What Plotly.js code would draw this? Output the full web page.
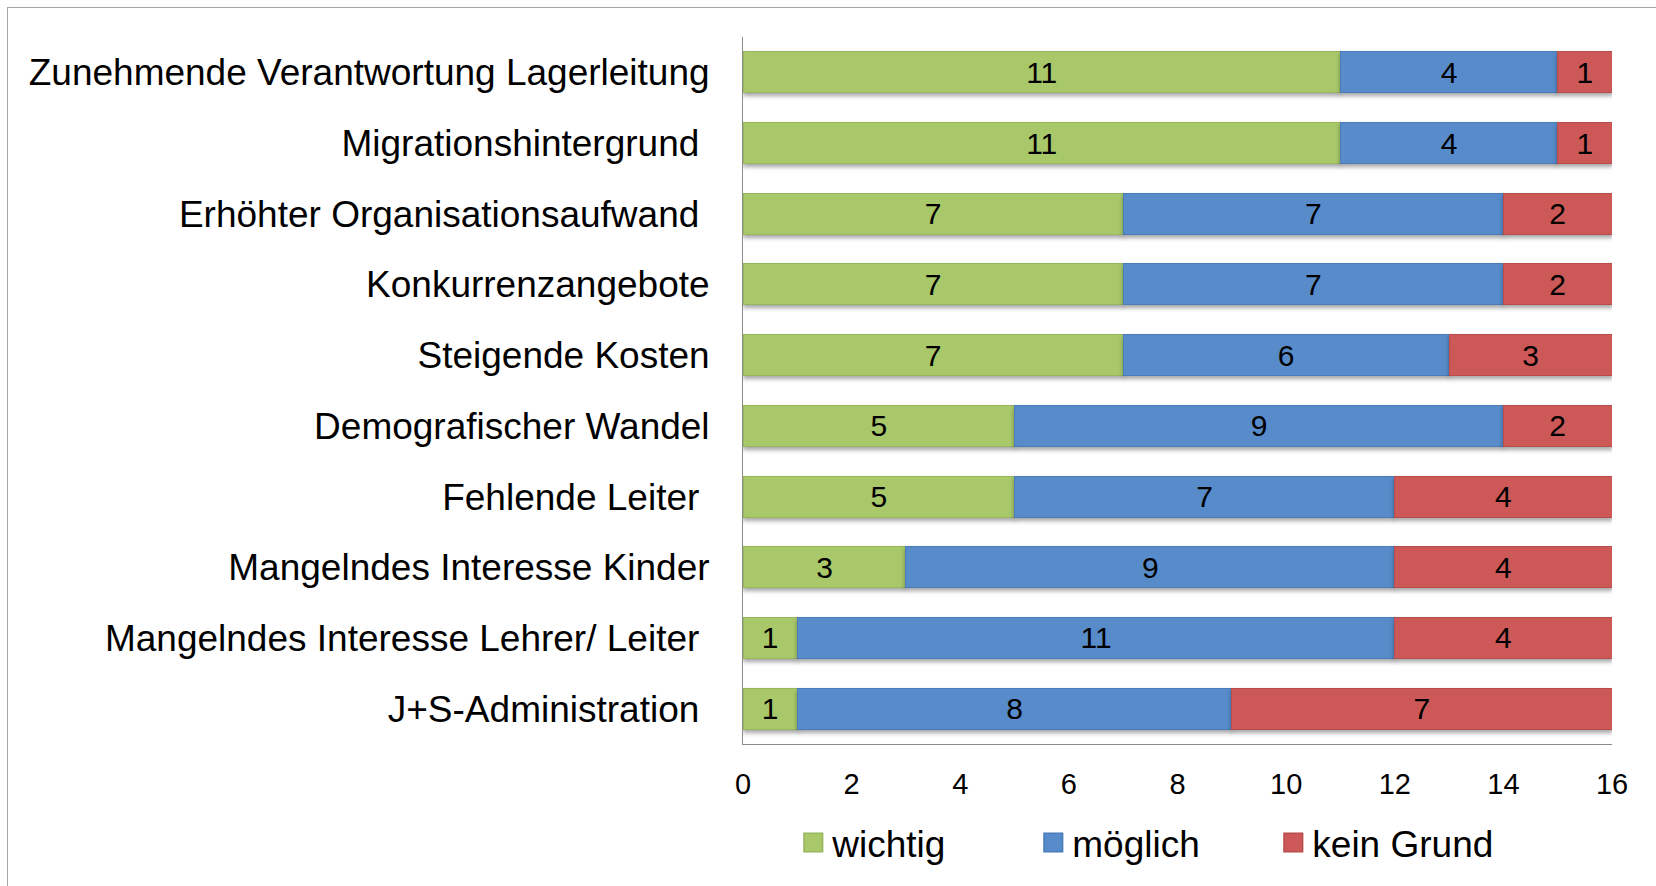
<!DOCTYPE html>
<html>
<head>
<meta charset="utf-8">
<script src="https://cdn.plot.ly/plotly-3.0.1.min.js"></script>
<style>
  html, body { margin: 0; padding: 0; background: #fff; }
  #wrap { position: relative; width: 1656px; height: 886px; overflow: hidden; }
  #frame { position: absolute; left: 7px; top: 7px; width: 1700px; height: 900px;
           border-top: 1px solid #a6a6a6; border-left: 1px solid #a6a6a6; pointer-events: none; z-index: 5; }
  #chart { position: absolute; left: 0; top: 0; width: 1656px; height: 886px; }
  .barlayer .point path { filter: drop-shadow(0px 3px 2px rgba(0,0,0,0.35)); }
  .legend .legendpoints path { transform: translate(21px, 0px) scale(1.55); }
</style>
</head>
<body>
<div id="wrap">
  <div id="chart"></div>
  <div id="frame"></div>
</div>
<script>
const categories = [
  "Zunehmende Verantwortung Lagerleitung",
  "Migrationshintergrund\u00a0",
  "Erhöhter Organisationsaufwand\u00a0",
  "Konkurrenzangebote",
  "Steigende Kosten",
  "Demografischer Wandel",
  "Fehlende Leiter\u00a0",
  "Mangelndes Interesse Kinder",
  "Mangelndes Interesse Lehrer/ Leiter\u00a0",
  "J+S-Administration\u00a0"
];
const seriesNames = ["wichtig", "möglich", "kein Grund"];
const wichtig   = [11, 11, 7, 7, 7, 5, 5, 3, 1, 1];
const moeglich  = [4, 4, 7, 7, 6, 9, 7, 9, 11, 8];
const keinGrund = [1, 1, 2, 2, 3, 2, 4, 4, 4, 7];
const xTicks = [0, 2, 4, 6, 8, 10, 12, 14, 16];

const colors = ["#a9c86a", "#578bca", "#cc5957"];
const lineColors = ["#98b65c", "#4a7cba", "#b84d4b"];
const values = [wichtig, moeglich, keinGrund];

const FONT = "Liberation Sans, Arial, sans-serif";

const traces = values.map((v, i) => ({
  type: "bar",
  orientation: "h",
  name: seriesNames[i],
  y: categories,
  x: v,
  text: v.map(String),
  textposition: "inside",
  insidetextanchor: "middle",
  textangle: 0,
  constraintext: "none",
  textfont: { family: FONT, size: 30, color: "#000" },
  marker: { color: colors[i], line: { color: lineColors[i], width: 1 } },
  hoverinfo: "none"
}));

const layout = {
  width: 1656,
  height: 886,
  barmode: "stack",
  bargap: 0.42,
  paper_bgcolor: "rgba(0,0,0,0)",
  plot_bgcolor: "#fff",
  margin: { l: 743, r: 44, t: 37, b: 140 },
  font: { family: FONT, color: "#000" },
  showlegend: true,
  xaxis: {
    range: [0, 16],
    tickvals: xTicks,
    ticktext: xTicks.map(String),
    showgrid: false,
    zeroline: false,
    showline: true,
    linecolor: "#8c8c8c",
    linewidth: 1,
    ticks: "",
    ticklabelstandoff: 14,
    tickfont: { family: FONT, size: 29, color: "#000" },
    fixedrange: true
  },
  yaxis: {
    type: "category",
    autorange: "reversed",
    showgrid: false,
    zeroline: false,
    showline: true,
    linecolor: "#8c8c8c",
    linewidth: 1,
    ticks: "",
    ticklabelstandoff: 25,
    tickfont: { family: FONT, size: 37, color: "#000" },
    fixedrange: true
  },
  legend: {
    orientation: "h",
    x: 0.471,
    xanchor: "center",
    y: -0.14,
    yanchor: "middle",
    traceorder: "normal",
    entrywidth: 195,
    itemwidth: 30,
    font: { family: FONT, size: 37, color: "#000" },
    bgcolor: "rgba(0,0,0,0)"
  }
};

Plotly.newPlot("chart", traces, layout, { displayModeBar: false, staticPlot: true });
</script>
</body>
</html>
